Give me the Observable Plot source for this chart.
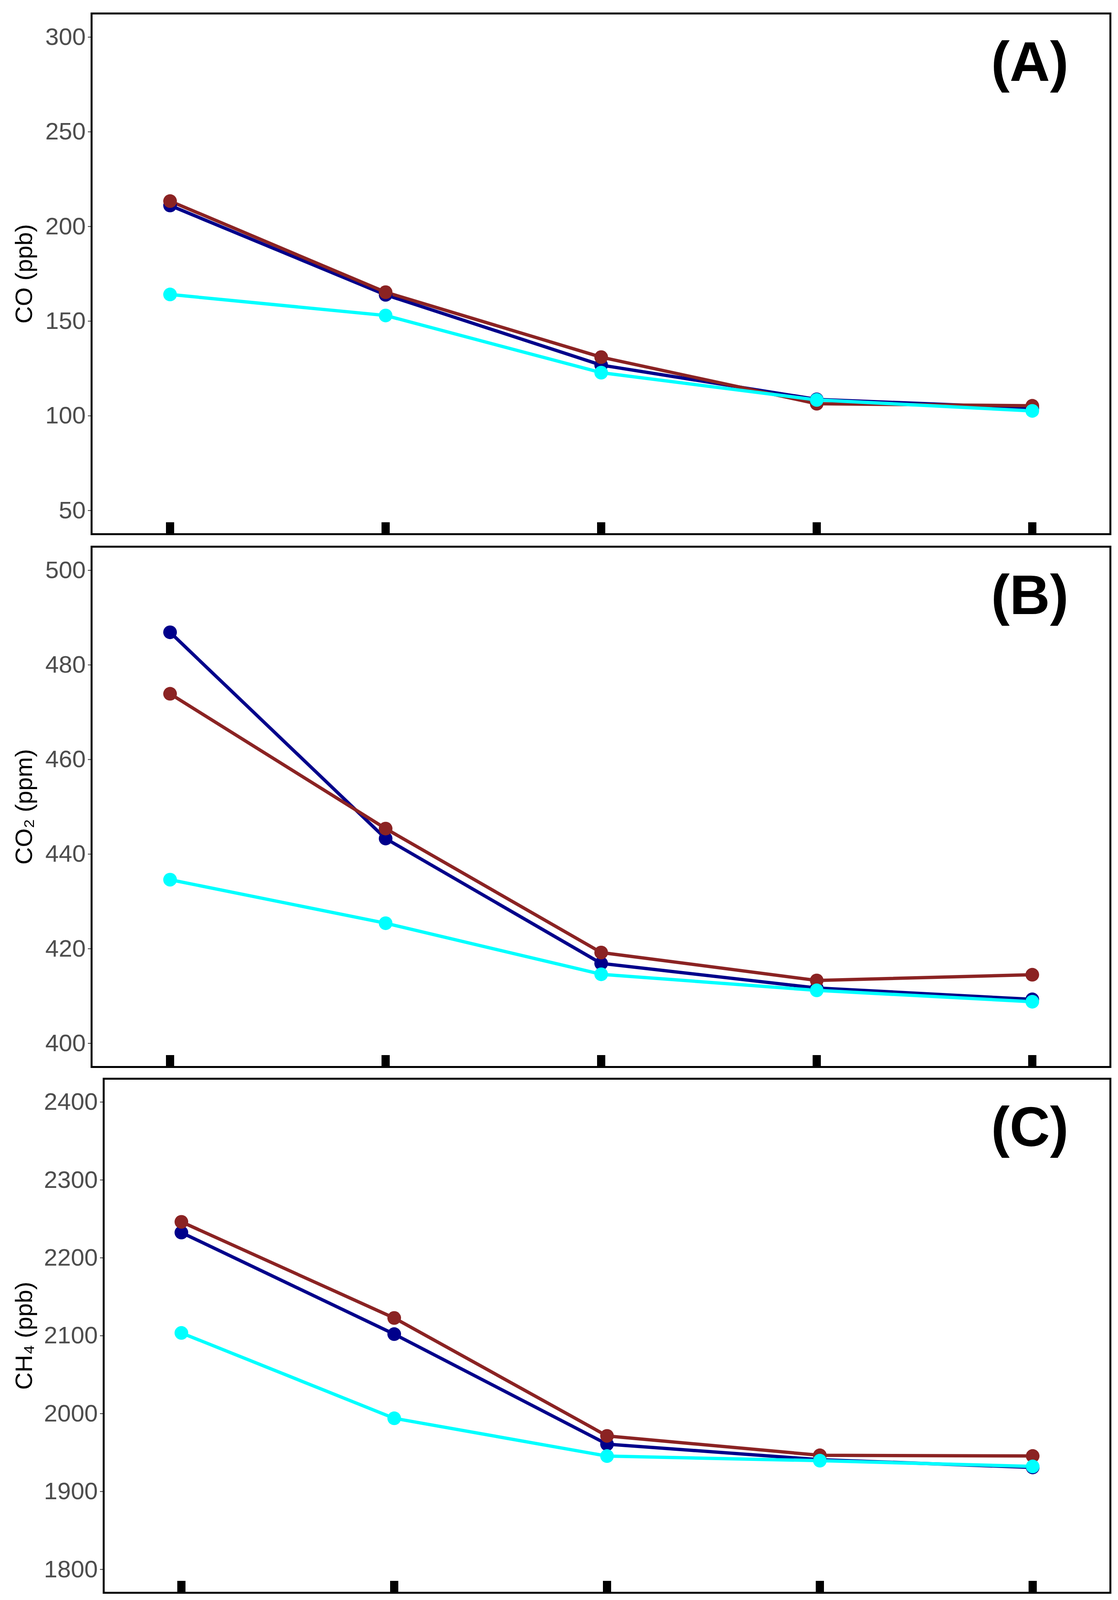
<!DOCTYPE html>
<html>
<head>
<meta charset="utf-8">
<script src="https://cdn.jsdelivr.net/npm/d3@7"></script>
<script src="https://cdn.jsdelivr.net/npm/@observablehq/plot@0.6"></script>
<style>
  html, body { margin: 0; background: #fff; overflow: hidden; }
  #chart svg { display: block; }
</style>
</head>
<body>
<div id="chart"></div>
<script>
// five sampling points along the x axis (unlabelled in the figure)
const sites = ['1', '2', '3', '4', '5']
const seriesNames = ['Series 1', 'Series 2', 'Series 3']
const seriesColors = ['#00008B', '#8B2323', '#00FFFF']

// CO (ppb)
const coS1 = [211.1, 163.9, 126.8, 108.7, 104.2]
const coS2 = [213.4, 165.3, 131.0, 106.4, 105.3]
const coS3 = [164.1, 153.0, 122.8, 108.4, 102.6]
const coTicks = [50, 100, 150, 200, 250, 300]

// CO2 (ppm)
const co2S1 = [486.9, 443.3, 416.9, 411.7, 409.3]
const co2S2 = [473.9, 445.4, 419.2, 413.3, 414.5]
const co2S3 = [434.6, 425.4, 414.6, 411.2, 408.8]
const co2Ticks = [400, 420, 440, 460, 480, 500]

// CH4 (ppb)
const ch4S1 = [2232.5, 2102.1, 1960.8, 1940.9, 1930.9]
const ch4S2 = [2246.2, 2122.8, 1971.4, 1946.5, 1945.6]
const ch4S3 = [2103.6, 1994.0, 1945.5, 1939.6, 1932.2]
const ch4Ticks = [1800, 1900, 2000, 2100, 2200, 2300, 2400]

function rows(s1, s2, s3) {
  const out = []
  ;[s1, s2, s3].forEach((vals, i) => {
    vals.forEach((v, j) => out.push({site: sites[j], series: seriesNames[i], value: v}))
  })
  return out
}

// fit the three panels into the visible window height
const k = Math.min(1, (window.innerHeight || 4257) / 4257)
const sy = v => Math.round(v * k)

function panel({data, ticks, domain, label, tag, height, marginTop, marginBottom, marginLeft}) {
  return Plot.plot({
    width: 2863,
    height: sy(height),
    marginTop: sy(marginTop),
    marginBottom: sy(marginBottom),
    marginLeft,
    marginRight: 20,
    style: {
      backgroundColor: '#fff',
      fontFamily: '"Liberation Sans", Arial, sans-serif',
      overflow: 'visible'
    },
    x: {type: 'point', domain: sites, padding: 0.362},
    y: {domain},
    color: {domain: seriesNames, range: seriesColors},
    marks: [
      Plot.line(data, {x: 'site', y: 'value', z: 'series', stroke: 'series', strokeWidth: 8.5}),
      Plot.dot(data, {x: 'site', y: 'value', fill: 'series', r: 17.5}),
      Plot.axisY(ticks, {
        tickSize: 9, tickPadding: 6, fontSize: 62, tickFormat: d3.format('d'),
        fill: '#4D4D4D', stroke: '#333', strokeWidth: 2, label: null
      }),
      Plot.axisX(sites, {
        tickSize: 30, dy: -30, strokeWidth: 21, stroke: 'black',
        tickFormat: () => '', label: null
      }),
      Plot.text([label], {
        frameAnchor: 'left', text: d => d, rotate: -90, textAnchor: 'middle',
        lineAnchor: 'middle', dx: 62 - marginLeft, fontSize: 62, fill: 'black'
      }),
      Plot.text([tag], {
        frameAnchor: 'top-right', text: d => d, lineAnchor: 'top',
        dx: -107, dy: sy(74), fontSize: 143, fontWeight: 'bold', fill: 'black'
      }),
      Plot.frame({stroke: 'black', strokeWidth: 5})
    ]
  })
}

const chartA = panel({
  data: rows(coS1, coS2, coS3), ticks: coTicks, domain: [37.5, 312.5],
  label: 'CO (ppb)', tag: '(A)', height: 1437, marginTop: 35, marginBottom: 17, marginLeft: 234
})
const chartB = panel({
  data: rows(co2S1, co2S2, co2S3), ticks: co2Ticks, domain: [395, 505],
  label: 'CO₂ (ppm)', tag: '(B)', height: 1417, marginTop: 17, marginBottom: 16, marginLeft: 234
})
const chartC = panel({
  data: rows(ch4S1, ch4S2, ch4S3), ticks: ch4Ticks, domain: [1770, 2430],
  label: 'CH₄ (ppb)', tag: '(C)', height: 1403, marginTop: 16, marginBottom: 20, marginLeft: 265
})

d3.select('#chart').append(() => chartA)
d3.select('#chart').append(() => chartB)
d3.select('#chart').append(() => chartC)
</script>
</body>
</html>
